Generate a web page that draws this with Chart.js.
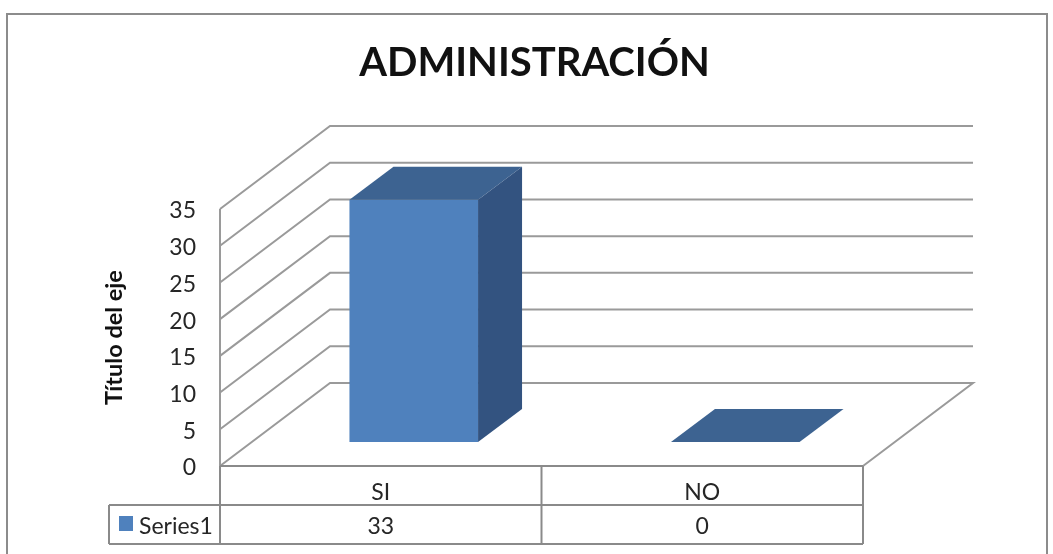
<!DOCTYPE html>
<html>
<head>
<meta charset="utf-8">
<script src="https://cdn.jsdelivr.net/npm/chart.js@4/dist/chart.umd.min.js"></script>
<style>html,body{margin:0;padding:0;background:#fff}canvas{display:block}</style>
</head>
<body>
<canvas id="c" width="1053" height="554"></canvas>
<script>
const chartTitle = "ADMINISTRACIÓN";
const axisTitle = "Título del eje";
const categories = ["SI", "NO"];
const seriesName = "Series1";
const seriesValues = [33, 0];
const yMax = 35;
const yStep = 5;

const FONT = "Lato";
const TEXT = "#262626";
const GRID = "#9a9a9a";
const TABLE = "#8a8a8a";
const FRONT = "#4F81BD", TOP = "#3D6391", SIDE = "#335380";
const WALL = {dx:110, dy:-83};
const BAR_SHIFT = {dx:33, dy:-24};
const BAR_DEPTH = {dx:44, dy:-33};

function line(ctx, pts, color, w){
  ctx.save();
  ctx.strokeStyle = color; ctx.lineWidth = w; ctx.lineJoin = "miter";
  ctx.beginPath();
  pts.forEach((p,i)=> i ? ctx.lineTo(p[0],p[1]) : ctx.moveTo(p[0],p[1]));
  ctx.stroke();
  ctx.restore();
}
function poly(ctx, pts, color){
  ctx.fillStyle = color;
  ctx.beginPath();
  pts.forEach((p,i)=> i ? ctx.lineTo(p[0],p[1]) : ctx.moveTo(p[0],p[1]));
  ctx.closePath(); ctx.fill();
}

const scene = {
  id:"scene",
  beforeDraw(chart){
    // the chart title is centred on the whole frame, not on the plot
    const t = chart.titleBlock;
    if (t) { t.left = 16; t.right = 1053; }
    const ctx = chart.ctx;
    line(ctx, [[7,554],[7,14],[1047,14],[1047,554]], "#8c8c8c", 2);
  },
  beforeDatasetsDraw(chart){
    const ctx = chart.ctx, x = chart.scales.x, y = chart.scales.y;
    const L = x.left, R = x.right;
    y.ticks.forEach(t=>{
      const py = y.getPixelForValue(t.value);
      if (t.value === 0) return;
      line(ctx, [[L,py],[L+WALL.dx,py+WALL.dy],[R+WALL.dx,py+WALL.dy]], GRID, 2);
    });
    const y0 = y.getPixelForValue(0);
    line(ctx, [[L,y0],[L+WALL.dx,y0+WALL.dy],[R+WALL.dx,y0+WALL.dy],[R,y0]], GRID, 2);
    line(ctx, [[L,y.top],[L,y0]], GRID, 2);
  },
  beforeDatasetDraw(chart){
    chart.ctx.save();
    chart.ctx.translate(BAR_SHIFT.dx, BAR_SHIFT.dy);
  },
  afterDatasetDraw(chart, args){
    const ctx = chart.ctx;
    chart.getDatasetMeta(args.index).data.forEach(b=>{
      const p = b.getProps(["x","y","base","width"], true);
      const l = p.x-p.width/2, r = p.x+p.width/2, d = BAR_DEPTH;
      poly(ctx, [[l,p.y],[r,p.y],[r+d.dx,p.y+d.dy],[l+d.dx,p.y+d.dy]], TOP);
      if (p.base > p.y) poly(ctx, [[r,p.y],[r+d.dx,p.y+d.dy],[r+d.dx,p.base+d.dy],[r,p.base]], SIDE);
    });
    ctx.restore();
  },
  afterDraw(chart){
    const ctx = chart.ctx, x = chart.scales.x, y = chart.scales.y;
    const L = x.left, R = x.right, top = y.bottom, m = 505, b = 544, keyL = 109;
    line(ctx, [[L,top],[R,top]], TABLE, 2);
    line(ctx, [[keyL,m],[R,m]], TABLE, 2);
    line(ctx, [[keyL,b],[R,b]], TABLE, 2);
    line(ctx, [[keyL,m],[keyL,b]], TABLE, 2);
    line(ctx, [[L,top],[L,b]], TABLE, 2);
    line(ctx, [[(L+R)/2,top],[(L+R)/2,b]], TABLE, 2);
    line(ctx, [[R,top],[R,b]], TABLE, 2);
    ctx.save();
    ctx.fillStyle = TEXT;
    ctx.font = "23px " + FONT;
    ctx.textBaseline = "middle";
    ctx.textAlign = "center";
    seriesValues.forEach((v,i)=> ctx.fillText(String(v), x.getPixelForTick(i), 527));
    ctx.textAlign = "left";
    ctx.fillText(seriesName, 139, 527);
    ctx.fillStyle = FRONT;
    ctx.fillRect(119, 516, 14, 15);
    ctx.restore();
  }
};

new Chart(document.getElementById("c"), {
  type:"bar",
  data:{
    labels:categories,
    datasets:[{label:seriesName, data:seriesValues, backgroundColor:FRONT, borderWidth:0,
      categoryPercentage:1, barPercentage:0.4, clip:false}]
  },
  options:{
    responsive:false,
    animation:false,
    layout:{padding:{left:16, right:190, top:0, bottom:0}},
    plugins:{
      legend:{display:false},
      tooltip:{enabled:false},
      title:{display:true, text:chartTitle, color:"#111",
        font:{family:FONT, size:40, weight:"bold"}, padding:{top:39, bottom:122}}
    },
    scales:{
      x:{
        grid:{display:false, drawTicks:false}, border:{display:false},
        ticks:{color:TEXT, font:{family:FONT, size:23}, padding:13, maxRotation:0},
        afterFit(s){ s.height = 88; }
      },
      y:{
        min:0, max:yMax,
        grid:{display:false, drawTicks:false}, border:{display:false},
        ticks:{stepSize:yStep, color:TEXT, font:{family:FONT, size:23}, padding:24, labelOffset:2},
        title:{display:true, text:axisTitle, color:"#111", font:{family:FONT, size:23.5, weight:"bold"}, padding:{top:84,bottom:0}},
        afterFit(s){ s.width = 204; }
      }
    }
  },
  plugins:[scene]
});
</script>
</body>
</html>
